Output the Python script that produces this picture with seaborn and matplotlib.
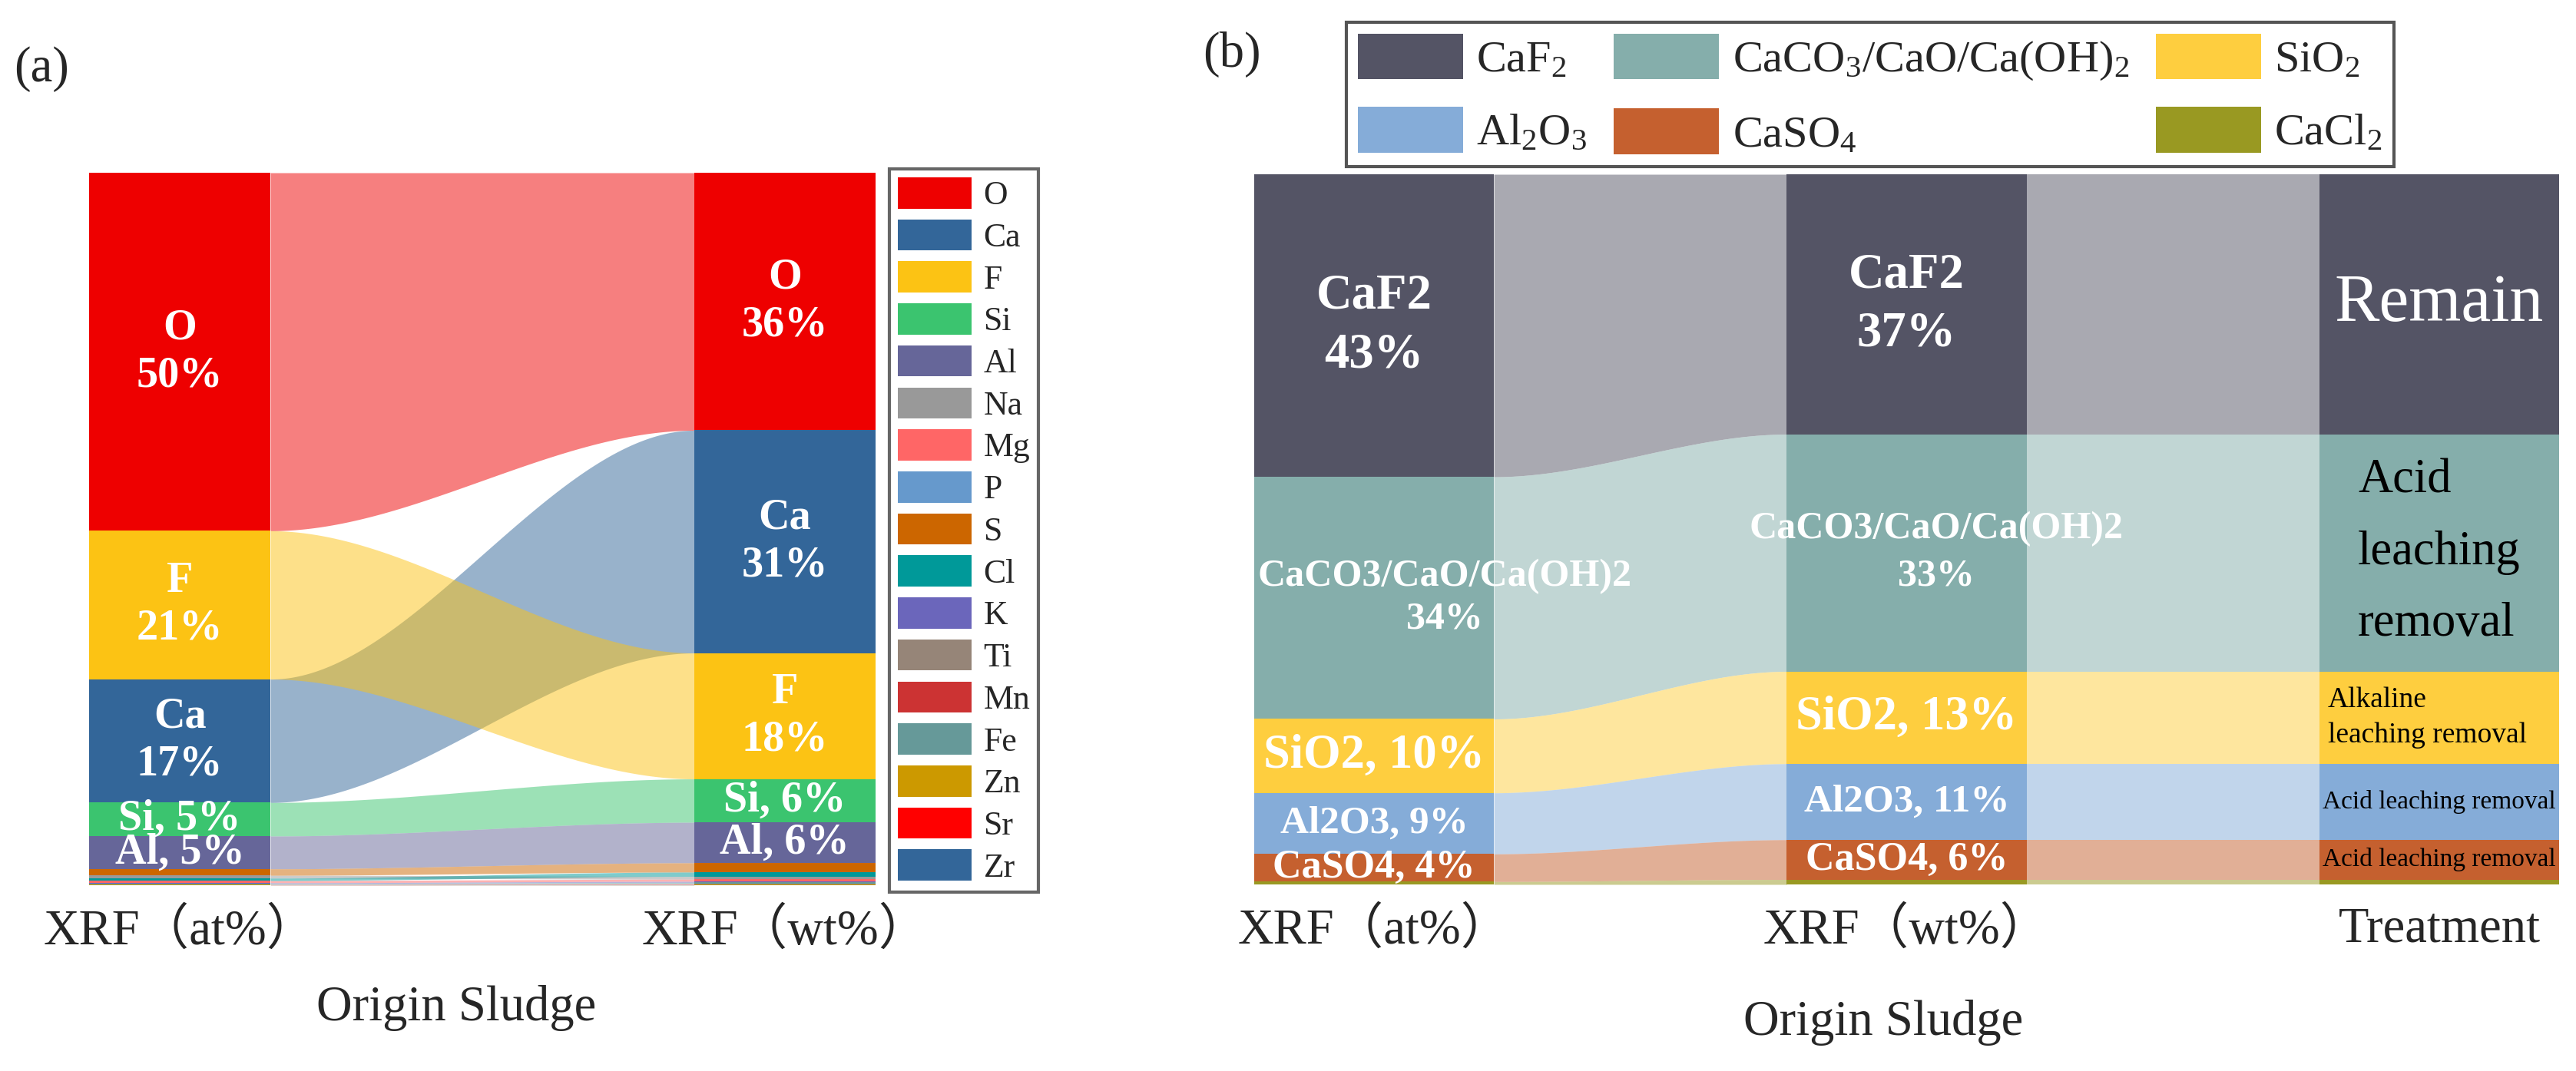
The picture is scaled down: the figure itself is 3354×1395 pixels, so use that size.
import numpy as np
import matplotlib
matplotlib.use("Agg")
import matplotlib.pyplot as plt
from matplotlib.patches import Patch
import seaborn as sns

# ---------------- panel (a): XRF elements ----------------
ELEMENTS = ["O", "Ca", "F", "Si", "Al", "Na", "Mg", "P", "S",
            "Cl", "K", "Ti", "Mn", "Fe", "Zn", "Sr", "Zr"]
AT_PCT = [50.2, 17.3, 20.8, 4.7, 4.6, 0.40, 0.30, 0.05, 0.9,
          0.35, 0.10, 0.03, 0.02, 0.08, 0.02, 0.02, 0.02]
WT_PCT = [36.2, 31.3, 17.7, 6.1, 5.7, 0.40, 0.30, 0.05, 1.3,
          0.60, 0.15, 0.05, 0.03, 0.15, 0.03, 0.05, 0.03]
ELEM_COLORS = ["#EE0000", "#336699", "#FCC314", "#3BC46F", "#666699",
               "#999999", "#FF6666", "#6699CC", "#CC6600", "#009999",
               "#6B66BB", "#968578", "#CC3333", "#669999", "#CC9900",
               "#FF0000", "#336699"]
AT_LABELS = {"O": "O\n50%", "F": "F\n21%", "Ca": "Ca\n17%",
             "Si": "Si, 5%", "Al": "Al, 5%"}
WT_LABELS = {"O": "O\n36%", "Ca": "Ca\n31%", "F": "F\n18%",
             "Si": "Si, 6%", "Al": "Al, 6%"}
A_COLUMNS = ["XRF（at%）", "XRF（wt%）"]

# ---------------- panel (b): phases ----------------
PHASES = ["CaF2", "CaCO3/CaO/Ca(OH)2", "SiO2", "Al2O3", "CaSO4", "CaCl2"]
PHASE_LEGEND = [r"$\mathrm{CaF_2}$", r"$\mathrm{CaCO_3/CaO/Ca(OH)_2}$",
                r"$\mathrm{SiO_2}$", r"$\mathrm{Al_2O_3}$",
                r"$\mathrm{CaSO_4}$", r"$\mathrm{CaCl_2}$"]
PHASE_COLORS = ["#545465", "#85AEAB", "#FECE3F", "#85ACD8", "#C5602F", "#999922"]
PH_AT = [42.6, 34.1, 10.4, 8.6, 3.9, 0.4]
PH_WT = [36.6, 33.4, 13.0, 10.7, 5.6, 0.7]
PH_TREAT = [36.6, 33.4, 13.0, 10.7, 5.6, 0.7]
B_COLUMNS = ["XRF（at%）", "XRF（wt%）", "Treatment"]
AT_PH_LABELS = ["CaF2\n43%", "CaCO3/CaO/Ca(OH)2\n34%", "SiO2, 10%",
                "Al2O3, 9%", "CaSO4, 4%"]
WT_PH_LABELS = ["CaF2\n37%", "CaCO3/CaO/Ca(OH)2\n33%", "SiO2, 13%",
                "Al2O3, 11%", "CaSO4, 6%"]
TREAT_LABELS = ["Remain", "Acid\nleaching\nremoval",
                "Alkaline\nleaching removal",
                "Acid leaching removal", "Acid leaching removal"]

W, H, DPI = 3354, 1395, 300
SERIF = ["Liberation Serif", "Noto Sans CJK SC"]

sns.set_theme(style="white")
plt.rcParams["font.family"] = SERIF
plt.rcParams["mathtext.fontset"] = "custom"
plt.rcParams["mathtext.rm"] = "Liberation Serif"
plt.rcParams["mathtext.it"] = "Liberation Serif:italic"
plt.rcParams["mathtext.bf"] = "Liberation Serif:bold"


def stack(values, order):
    v = np.asarray(values, float)
    v = v / v.sum() * 100
    spans, y = {}, 100.0
    for i in order:
        spans[i] = (y - v[i], y)
        y -= v[i]
    return spans


def draw_flow(ax, x0, x1, span0, span1, color):
    xs = np.linspace(x0, x1, 200)
    t = (xs - x0) / (x1 - x0)
    s = 3 * t ** 2 - 2 * t ** 3
    lo = span0[0] + (span1[0] - span0[0]) * s
    hi = span0[1] + (span1[1] - span0[1]) * s
    ax.fill_between(xs, lo, hi, color=color, alpha=0.5, linewidth=0, zorder=1)


def draw_alluvial(ax, columns, colors, w, order_by_value=True):
    spans = []
    for vals in columns:
        if order_by_value:
            order = list(np.argsort(-np.asarray(vals), kind="stable"))
        else:
            order = list(range(len(vals)))
        spans.append(stack(vals, order))
    n = len(columns[0])
    for j in range(len(columns) - 1):
        for i in range(n):
            draw_flow(ax, j + w / 2, j + 1 - w / 2, spans[j][i], spans[j + 1][i], colors[i])
    for j, sp in enumerate(spans):
        for i in range(n):
            lo, hi = sp[i]
            ax.bar(j, hi - lo, bottom=lo, width=w, color=colors[i],
                   linewidth=0, zorder=2)
    return spans


def style_axes(ax, labels, w):
    ax.set_xlim(-w / 2, len(labels) - 1 + w / 2)
    ax.set_ylim(0, 100)
    ax.set_yticks([])
    ax.set_xticks(range(len(labels)), labels)
    ax.tick_params(axis="x", length=0, pad=7, labelsize=15.5)
    sns.despine(ax=ax, left=True, bottom=True)
    ax.set_facecolor("white")


fig = plt.figure(figsize=(W / DPI, H / DPI), dpi=DPI)
fig.patch.set_facecolor("white")

# ---------------- (a) ----------------
wa = 0.3
ax_a = fig.add_axes([116 / W, 1 - 1153 / H, (1140 - 116) / W, (1153 - 225) / H])
sp_a = draw_alluvial(ax_a, [AT_PCT, WT_PCT], ELEM_COLORS, wa)
for j, lab in enumerate([AT_LABELS, WT_LABELS]):
    for name, txt in lab.items():
        lo, hi = sp_a[j][ELEMENTS.index(name)]
        ax_a.text(j, (lo + hi) / 2, txt, ha="center", va="center", color="white",
                  fontsize=13.5, fontweight="bold", linespacing=1.25, zorder=3)
style_axes(ax_a, A_COLUMNS, wa)
ax_a.text(0.467, -0.172, "Origin Sludge", transform=ax_a.transAxes,
          ha="center", va="center", fontsize=15.5)

handles_a = [Patch(facecolor=c, edgecolor="none") for c in ELEM_COLORS]
fig.legend(handles_a, ELEMENTS, loc="upper left",
           bbox_to_anchor=(1158 / W, 1 - 220 / H), fontsize=10.5,
           frameon=True, fancybox=False, edgecolor="#666666", framealpha=1,
           handlelength=2.2, handleheight=1.05, labelspacing=0.24,
           handletextpad=0.35, borderpad=0.25, borderaxespad=0)

# ---------------- (b) ----------------
wb = 0.45
ax_b = fig.add_axes([1633 / W, 1 - 1152 / H, (3332 - 1633) / W, (1152 - 227) / H])
sp_b = draw_alluvial(ax_b, [PH_AT, PH_WT, PH_TREAT], PHASE_COLORS, wb,
                     order_by_value=False)

bold_sizes = [15.5, 12, 15, 12.3, 12.5]
x_shift = [[0, 0.133, 0, 0, 0], [0, 0.055, 0, 0, 0]]
line_sp = [[1.35, 1.29, 1, 1, 1], [1.35, 1.44, 1, 1, 1]]
for j, labs in enumerate([AT_PH_LABELS, WT_PH_LABELS]):
    for i, txt in enumerate(labs):
        lo, hi = sp_b[j][i]
        ax_b.text(j + x_shift[j][i], (lo + hi) / 2, txt, ha="center", va="center",
                  color="white", fontsize=bold_sizes[i], fontweight="bold",
                  linespacing=line_sp[j][i], zorder=3)

treat_style = [
    dict(x=2, ha="center", color="white", fontsize=21),
    dict(x=2, ha="center", color="black", fontsize=15, linespacing=1.8,
         multialignment="left"),
    dict(x=2 - wb / 2 + 0.016, ha="left", color="black", fontsize=9,
         linespacing=1.45),
    dict(x=2, ha="center", color="black", fontsize=8),
    dict(x=2, ha="center", color="black", fontsize=8),
]
for i, txt in enumerate(TREAT_LABELS):
    lo, hi = sp_b[2][i]
    ax_b.text(y=(lo + hi) / 2, s=txt, va="center", zorder=3, **treat_style[i])

style_axes(ax_b, B_COLUMNS, wb)
ax_b.text(0.482, -0.195, "Origin Sludge", transform=ax_b.transAxes,
          ha="center", va="center", fontsize=15.5)

handles_b = [Patch(facecolor=c, edgecolor="none") for c in PHASE_COLORS]
leg_order = [0, 3, 1, 4, 2, 5]
fig.legend([handles_b[i] for i in leg_order], [PHASE_LEGEND[i] for i in leg_order],
           ncol=3, loc="upper left", bbox_to_anchor=(1753 / W, 1 - 29 / H),
           fontsize=14, frameon=True, fancybox=False, edgecolor="#555555",
           framealpha=1, handlelength=2.35, handleheight=1.2,
           columnspacing=0.6, labelspacing=0.58, handletextpad=0.3,
           borderpad=0.25, borderaxespad=0)

# panel tags
fig.text(54 / W, 1 - 90 / H, "(a)", ha="center", va="center", fontsize=15.5)
fig.text(1604 / W, 1 - 71 / H, "(b)", ha="center", va="center", fontsize=15.5)

fig.savefig("out.png", dpi=DPI, facecolor="white")
